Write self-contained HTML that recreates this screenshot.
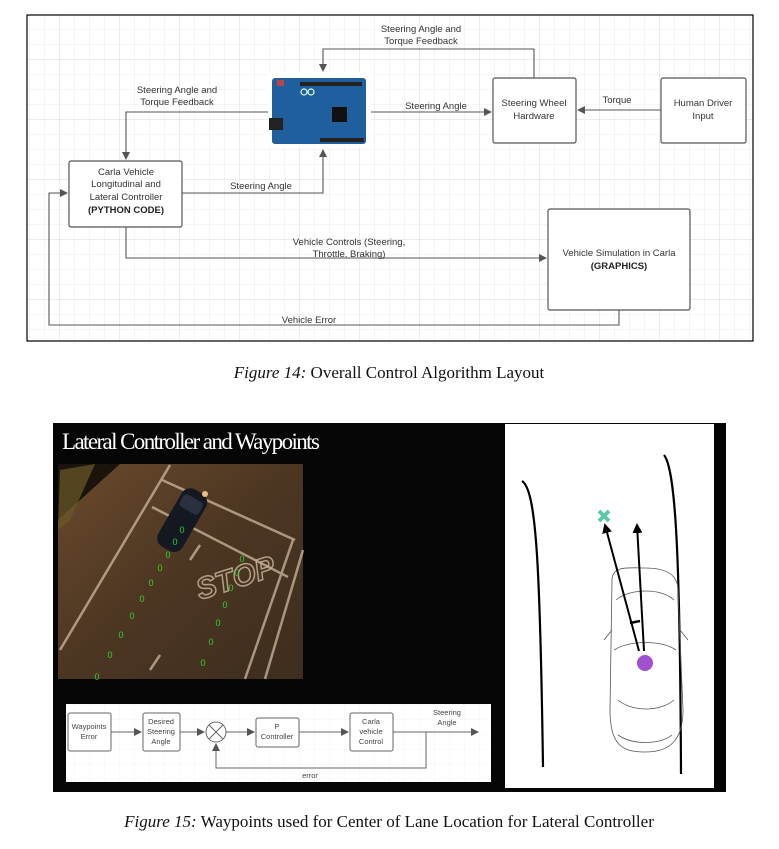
<!DOCTYPE html>
<html><head><meta charset="utf-8"><style>
html,body{margin:0;padding:0;background:#fff;}
svg{display:block;}
text{font-family:"Liberation Sans",sans-serif;}
.t{font-size:9.5px;fill:#333;text-anchor:middle;}
.cap{font-family:"Liberation Serif",serif;font-size:17px;fill:#111;text-anchor:middle;}
</style></head><body>
<svg width="779" height="849" viewBox="0 0 779 849">
<defs>
<pattern id="grid" width="15" height="15" patternUnits="userSpaceOnUse"><path d="M15 0V15H0" fill="none" stroke="#e6e6e6" stroke-width="0.8"/></pattern>
<pattern id="grid2" width="60" height="60" patternUnits="userSpaceOnUse"><path d="M60 0V60H0" fill="none" stroke="#d4d4d4" stroke-width="0.8"/></pattern>
<marker id="ar" markerWidth="8" markerHeight="8" refX="7" refY="4" orient="auto" markerUnits="userSpaceOnUse"><path d="M0 0L8 4L0 8Z" fill="#555"/></marker>
<marker id="ak" markerWidth="10" markerHeight="10" refX="8" refY="5" orient="auto" markerUnits="userSpaceOnUse"><path d="M0 0L10 5L0 10Z" fill="#000"/></marker>
<linearGradient id="road" x1="0" y1="0" x2="1" y2="1"><stop offset="0" stop-color="#6a4a2c"/><stop offset="0.5" stop-color="#4c3622"/><stop offset="1" stop-color="#3d2d1e"/></linearGradient>
</defs>

<!-- Figure 14 -->
<g>
<rect x="27" y="15" width="726" height="326" fill="#fff"/>
<rect x="27" y="15" width="726" height="326" fill="url(#grid)"/>
<rect x="27" y="15" width="726" height="326" fill="url(#grid2)"/>
<rect x="27" y="15" width="726" height="326" fill="none" stroke="#000" stroke-width="1.2"/>

<g>
<rect x="268" y="73" width="103" height="74" fill="#fff"/>
<rect x="272" y="78" width="94" height="66" rx="3" fill="#1f5f9e"/>
<rect x="300" y="82" width="62" height="4" fill="#222"/>
<rect x="320" y="138" width="44" height="4" fill="#222"/>
<rect x="269" y="118" width="14" height="12" fill="#222"/>
<rect x="332" y="107" width="15" height="15" fill="#111"/>
<rect x="277" y="80" width="7" height="6" fill="#b44"/>
<circle cx="304" cy="92" r="3" fill="none" stroke="#dfe" stroke-width="1.2"/><circle cx="311" cy="92" r="3" fill="none" stroke="#dfe" stroke-width="1.2"/>
</g>

<g>
<rect x="493" y="78" width="83" height="65" rx="2" fill="#fff" stroke="#555" stroke-width="1.2"/>
<text class="t" x="534" y="106">Steering Wheel</text><text class="t" x="534" y="119">Hardware</text></g>
<g>
<rect x="661" y="78" width="85" height="65" rx="2" fill="#fff" stroke="#555" stroke-width="1.2"/>
<text class="t" x="703" y="106">Human Driver</text><text class="t" x="703" y="119">Input</text></g>
<g>
<rect x="69" y="161" width="113" height="66" rx="2" fill="#fff" stroke="#555" stroke-width="1.2"/>
<text class="t" x="126" y="175">Carla Vehicle</text><text class="t" x="126" y="187">Longitudinal and</text><text class="t" x="126" y="200">Lateral Controller</text><text class="t" x="126" y="213" style="font-weight:bold;fill:#222">(PYTHON CODE)</text></g>
<g>
<rect x="548" y="209" width="142" height="101" rx="2" fill="#fff" stroke="#555" stroke-width="1.2"/>
<text class="t" x="619" y="256">Vehicle Simulation in Carla</text><text class="t" x="619" y="269" style="font-weight:bold;fill:#222">(GRAPHICS)</text></g>

<g fill="none" stroke="#555" stroke-width="1.1">
<path d="M534 78V49H323V71" marker-end="url(#ar)"/>
<path d="M268 112H126V159" marker-end="url(#ar)"/>
<path d="M371 112H491" marker-end="url(#ar)"/>
<path d="M661 110H578" marker-end="url(#ar)"/>
<path d="M182 193H323V150" marker-end="url(#ar)"/>
<path d="M126 227V258H546" marker-end="url(#ar)"/>
<path d="M619 310V325H49V193H67" marker-end="url(#ar)"/>
</g>
<text class="t" x="421" y="32">Steering Angle and</text><text class="t" x="421" y="44">Torque Feedback</text>
<text class="t" x="177" y="93">Steering Angle and</text><text class="t" x="177" y="105">Torque Feedback</text>
<text class="t" x="436" y="109">Steering Angle</text>
<text class="t" x="617" y="103">Torque</text>
<text class="t" x="261" y="189">Steering Angle</text>
<text class="t" x="349" y="245">Vehicle Controls (Steering,</text><text class="t" x="349" y="257">Throttle, Braking)</text>
<text class="t" x="309" y="323">Vehicle Error</text>
</g>
<text class="cap" x="389" y="378"><tspan font-style="italic">Figure 14:</tspan> Overall Control Algorithm Layout</text>

<!-- Figure 15 -->
<g>
<rect x="53" y="423" width="673" height="369" fill="#050505"/>
<text x="62" y="449" style="font-family:'Liberation Serif',serif;font-size:23px;fill:#fff;letter-spacing:-1.6px">Lateral Controller and Waypoints</text>

<g>
<rect x="58" y="464" width="245" height="215" fill="url(#road)"/>
<path d="M58 464H120L58 520Z" fill="#1a140d"/>
<path d="M60 470 L95 464 L70 520 L58 530Z" fill="#6b5a2a" opacity="0.7"/>
<g stroke="#cdb9a0" stroke-width="2.5" fill="none" opacity="0.75">
<path d="M170 465 L60 650"/>
<path d="M152 507 L288 577"/>
<path d="M162 480 L295 540"/>
<path d="M293 540 L245 679"/>
<path d="M303 550 L265 679"/>
<path d="M190 560 L200 545"/>
<path d="M150 670 L160 655"/>
</g>
<text x="200" y="600" transform="rotate(-18 200 600)" style="font-family:'Liberation Sans',sans-serif;font-size:30px;font-style:italic;font-weight:bold;fill:none;stroke:#cdb9a0;stroke-width:1.5;opacity:0.8">STOP</text>
<g transform="rotate(30 180 520)"><rect x="168" y="486" width="28" height="66" rx="10" fill="#141820"/><rect x="171" y="494" width="22" height="14" rx="4" fill="#2a3040"/></g>
<circle cx="205" cy="494" r="3" fill="#e8c080"/>
</g>
<g style="font-family:'Liberation Sans',sans-serif;font-size:9px;fill:#2fd02f;text-anchor:middle">
<text x="182" y="533">0</text><text x="175" y="545">0</text><text x="168" y="558">0</text><text x="160" y="571">0</text><text x="151" y="586">0</text><text x="142" y="602">0</text><text x="132" y="619">0</text><text x="121" y="638">0</text><text x="110" y="658">0</text><text x="97" y="680">0</text>
<text x="242" y="562">0</text><text x="237" y="576">0</text><text x="231" y="591">0</text><text x="225" y="608">0</text><text x="218" y="626">0</text><text x="211" y="645">0</text><text x="203" y="666">0</text>
</g>

<g>
<rect x="66" y="704" width="425" height="78" fill="#fff"/>
<rect x="66" y="704" width="425" height="78" fill="url(#grid)" opacity="0.6"/>
<g fill="#fff" stroke="#666" stroke-width="1">
<rect x="68" y="713" width="43" height="38" rx="2"/><rect x="143" y="713" width="37" height="38" rx="2"/>
<rect x="256" y="718" width="43" height="29" rx="2"/><rect x="350" y="713" width="43" height="38" rx="2"/>
<circle cx="216" cy="732" r="10"/><path d="M209 725L223 739M223 725L209 739"/>
</g>
<g fill="none" stroke="#666" stroke-width="1">
<path d="M111 732H141" marker-end="url(#ar)"/><path d="M180 732H204" marker-end="url(#ar)"/>
<path d="M226 732H254" marker-end="url(#ar)"/><path d="M299 732H348" marker-end="url(#ar)"/>
<path d="M393 732H478" marker-end="url(#ar)"/><path d="M426 732V768H216V744" marker-end="url(#ar)"/>
</g>
<g style="font-family:'Liberation Sans',sans-serif;font-size:7.5px;fill:#444;text-anchor:middle">
<text x="89" y="729">Waypoints</text><text x="89" y="739">Error</text>
<text x="161" y="724">Desired</text><text x="161" y="734">Steering</text><text x="161" y="744">Angle</text>
<text x="277" y="729">P</text><text x="277" y="739">Controller</text>
<text x="371" y="724">Carla</text><text x="371" y="734">vehicle</text><text x="371" y="744">Control</text>
<text x="447" y="715">Steering</text><text x="447" y="725">Angle</text>
<text x="310" y="778">error</text>
</g></g>

<g>
<rect x="505" y="424" width="209" height="364" fill="#fff"/>
<g fill="none" stroke="#000" stroke-width="2.2">
<path d="M522 481 C536 490 540 560 543 767"/>
<path d="M664 455 C676 470 680 560 681 774"/>
</g>
<g fill="none" stroke="#555" stroke-width="0.8">
<path d="M612 580 C612 565 630 568 645 568 C662 568 678 572 678 590 L683 710 C683 745 665 752 645 752 C622 752 610 745 610 710 Z"/>
<path d="M616 600 C630 588 662 588 674 600 M614 650 C630 640 662 640 676 650 M618 700 C632 712 660 712 674 700 M618 735 C632 745 660 745 672 735"/>
<path d="M604 640 L612 630 M688 640 L680 630"/>
</g>
<path d="M639 651 L605 525" stroke="#000" stroke-width="2" marker-end="url(#ak)"/>
<path d="M644 651 L637 525" stroke="#000" stroke-width="2" marker-end="url(#ak)"/>
<path d="M630 623 L640 621" stroke="#000" stroke-width="2.5"/>
<circle cx="645" cy="663" r="8" fill="#a050d0"/>
<path d="M599 511 L609 521 M609 511 L599 521" stroke="#5cc8a8" stroke-width="4"/>
</g>
</g>
<text class="cap" x="389" y="827"><tspan font-style="italic">Figure 15:</tspan> Waypoints used for Center of Lane Location for Lateral Controller</text>
</svg>
</body></html>
